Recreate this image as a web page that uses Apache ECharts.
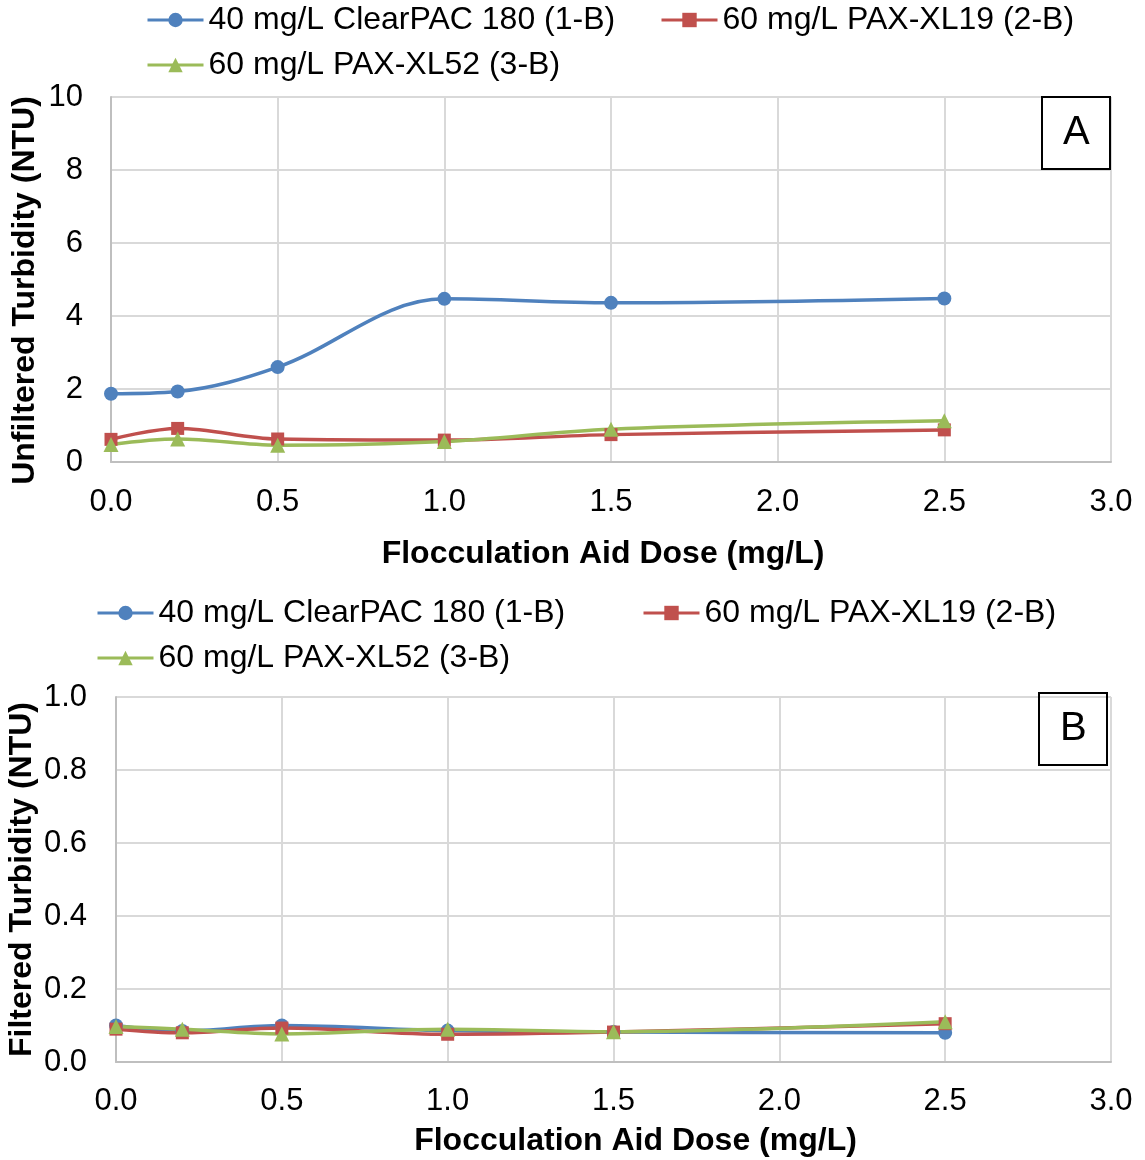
<!DOCTYPE html>
<html>
<head>
<meta charset="utf-8">
<script src="https://cdn.jsdelivr.net/npm/echarts@6/dist/echarts.min.js"></script>
<style>
  html, body { margin: 0; padding: 0; background: #fff; }
  #chart { width: 1145px; height: 1160px; }
</style>
</head>
<body>
<div id="chart"></div>
<script>
// dose values (x) shared by all series
const doses = [0, 0.2, 0.5, 1.0, 1.5, 2.5]
const seriesNames = ['40 mg/L ClearPAC 180 (1-B)', '60 mg/L PAX-XL19 (2-B)', '60 mg/L PAX-XL52 (3-B)']

// panel A - unfiltered turbidity (NTU)
const unfClearPAC = [1.87, 1.93, 2.6, 4.47, 4.36, 4.48]
const unfXL19 = [0.62, 0.92, 0.63, 0.6, 0.75, 0.88]
const unfXL52 = [0.48, 0.63, 0.46, 0.56, 0.9, 1.13]

// panel B - filtered turbidity (NTU)
const filClearPAC = [0.1, 0.085, 0.1, 0.086, 0.082, 0.08]
const filXL19 = [0.09, 0.08, 0.093, 0.076, 0.082, 0.105]
const filXL52 = [0.097, 0.09, 0.077, 0.09, 0.083, 0.11]

const colors = ['#4F81BD', '#C0504D', '#9BBB59']
const symbols = ['circle', 'rect', 'triangle']
const symbolSizes = [14, 13, 15]
const font = '"Liberation Sans", Arial, sans-serif'

const chart = echarts.init(document.getElementById('chart'))

const pairs = (ys) => doses.map((d, i) => [d, ys[i]])

const makeSeries = (idx, ys, axisIdx) => ({
  name: seriesNames[idx],
  type: 'line',
  xAxisIndex: axisIdx,
  yAxisIndex: axisIdx,
  data: pairs(ys),
  smooth: 0.35,
  symbol: symbols[idx],
  symbolSize: symbolSizes[idx],
  lineStyle: { color: colors[idx], width: 3.5 },
  itemStyle: { color: colors[idx] }
})

const legendItem = (idx, left, top) => ({
  data: [seriesNames[idx]],
  left: left,
  top: top,
  padding: 0,
  itemWidth: 56,
  itemHeight: 18,
  lineStyle: { width: 3 },
  textStyle: { fontSize: 32, color: '#000', fontFamily: font }
})

const xAxisBase = (gridIdx, labelMargin, nameGap, namePad) => ({
  type: 'value',
  gridIndex: gridIdx,
  min: 0,
  max: 3,
  interval: 0.5,
  name: 'Flocculation Aid Dose (mg/L)',
  nameLocation: 'middle',
  nameGap: nameGap,
  nameTextStyle: { fontSize: 32, fontWeight: 'bold', color: '#000', fontFamily: font, padding: namePad },
  axisLine: { lineStyle: { color: '#BFBFBF', width: 2 } },
  axisTick: { show: false },
  axisLabel: { fontSize: 31, color: '#000', fontFamily: font, margin: labelMargin, formatter: (v) => v.toFixed(1) },
  splitLine: { show: true, lineStyle: { color: '#D9D9D9', width: 2 } }
})

const option = {
  animation: false,
  backgroundColor: '#fff',
  title: [
    {
      text: 'A', left: 1042, top: 97, padding: [15, 21],
      borderColor: '#000', borderWidth: 2,
      textStyle: { fontSize: 40, fontWeight: 'normal', color: '#000', fontFamily: font, lineHeight: 42 }
    },
    {
      text: 'B', left: 1039, top: 693, padding: [15, 21],
      borderColor: '#000', borderWidth: 2,
      textStyle: { fontSize: 40, fontWeight: 'normal', color: '#000', fontFamily: font, lineHeight: 42 }
    }
  ],
  legend: [
    legendItem(0, 146, 4),
    legendItem(1, 660, 4),
    legendItem(2, 146, 49),
    legendItem(0, 96, 597),
    legendItem(1, 642, 597),
    legendItem(2, 96, 642)
  ],
  grid: [
    { left: 111, top: 97, right: 34, height: 365, outerBoundsMode: 'none' },
    { left: 116, top: 697, right: 34, height: 365, outerBoundsMode: 'none' }
  ],
  xAxis: [
    xAxisBase(0, 25, 76, [0, 16, 0, 0]),
    xAxisBase(1, 24, 63, [0, 0, 0, 44])
  ],
  yAxis: [
    {
      type: 'value',
      gridIndex: 0,
      min: 0,
      max: 10,
      interval: 2,
      name: 'Unfiltered Turbidity (NTU)',
      nameLocation: 'middle',
      nameGap: 70,
      nameMoveOverlap: false,
      nameTextStyle: { fontSize: 32, fontWeight: 'bold', color: '#000', fontFamily: font, padding: [0, 22, 0, 0] },
      axisLine: { show: true, lineStyle: { color: '#BFBFBF', width: 2 } },
      axisTick: { show: false },
      axisLabel: { fontSize: 31, color: '#000', fontFamily: font, margin: 28 },
      splitLine: { lineStyle: { color: '#D9D9D9', width: 2 } }
    },
    {
      type: 'value',
      gridIndex: 1,
      min: 0,
      max: 1,
      interval: 0.2,
      name: 'Filtered Turbidity (NTU)',
      nameLocation: 'middle',
      nameGap: 78,
      nameMoveOverlap: false,
      nameTextStyle: { fontSize: 32, fontWeight: 'bold', color: '#000', fontFamily: font },
      axisLine: { show: true, lineStyle: { color: '#BFBFBF', width: 2 } },
      axisTick: { show: false },
      axisLabel: { fontSize: 31, color: '#000', fontFamily: font, margin: 29, formatter: (v) => v.toFixed(1) },
      splitLine: { lineStyle: { color: '#D9D9D9', width: 2 } }
    }
  ],
  series: [
    makeSeries(0, unfClearPAC, 0),
    makeSeries(1, unfXL19, 0),
    makeSeries(2, unfXL52, 0),
    makeSeries(0, filClearPAC, 1),
    makeSeries(1, filXL19, 1),
    makeSeries(2, filXL52, 1)
  ]
}

chart.setOption(option)
</script>
</body>
</html>
